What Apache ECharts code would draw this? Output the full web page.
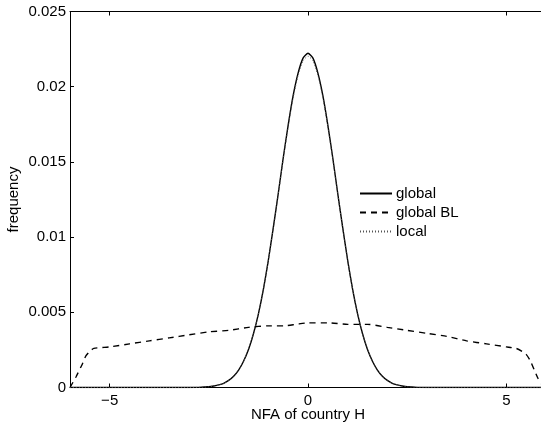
<!DOCTYPE html>
<html>
<head>
<meta charset="utf-8">
<script src="https://cdn.jsdelivr.net/npm/echarts@6/dist/echarts.min.js"></script>
<style>html,body{margin:0;padding:0;background:#fff;}#c{width:541px;height:426px;}</style>
</head>
<body>
<div id="c"></div>
<script>
// x grid for the global / local curves
var xNarrow = [-6, -3, -2.75, -2.5, -2.375, -2.25, -2.125, -2, -1.875, -1.75, -1.625, -1.5, -1.375, -1.25, -1.125, -1, -0.875, -0.75, -0.625, -0.5, -0.375, -0.25, -0.125, 0,
  0.125, 0.25, 0.375, 0.5, 0.625, 0.75, 0.875, 1, 1.125, 1.25, 1.375, 1.5, 1.625, 1.75, 1.875, 2, 2.125, 2.25, 2.375, 2.5, 2.75, 3, 6];
var globalVals = [0, 0, 0.00001, 0.00005, 0.0001, 0.00017, 0.00028, 0.00047, 0.00075, 0.00116, 0.00175, 0.00253, 0.00357, 0.0049, 0.00653, 0.00846, 0.01063, 0.0129, 0.01526, 0.01745, 0.0194, 0.0209, 0.0219, 0.02222,
  0.0219, 0.0209, 0.0194, 0.01745, 0.01526, 0.0129, 0.01063, 0.00846, 0.00653, 0.0049, 0.00357, 0.00253, 0.00175, 0.00116, 0.00075, 0.00047, 0.00028, 0.00017, 0.0001, 0.00005, 0.00001, 0, 0];
var localVals = [0, 0, 0.00001, 0.00005, 0.0001, 0.00017, 0.00028, 0.00047, 0.00075, 0.00116, 0.00175, 0.00253, 0.00357, 0.0049, 0.00652, 0.00843, 0.01058, 0.01283, 0.01516, 0.01733, 0.01926, 0.02075, 0.02172, 0.02203,
  0.02172, 0.02075, 0.01926, 0.01733, 0.01516, 0.01283, 0.01058, 0.00843, 0.00652, 0.0049, 0.00357, 0.00253, 0.00175, 0.00116, 0.00075, 0.00047, 0.00028, 0.00017, 0.0001, 0.00005, 0.00001, 0, 0];
// global BL curve
var xWide = [-6, -5.85, -5.7, -5.6, -5.5, -5.4, -5, -4.5, -4, -3.5, -3, -2.5, -2, -1.5, -1, -0.6, -0.3, 0, 0.5, 1, 1.5, 2, 2.5, 3, 3.5, 4, 4.5, 5, 5.25, 5.4, 5.5, 5.6, 5.7, 5.8, 5.9, 6];
var blVals = [0, 0.0007, 0.0015, 0.0021, 0.0024, 0.0026, 0.0027, 0.0029, 0.0031, 0.0033, 0.0035, 0.0037, 0.0038, 0.004, 0.0041, 0.0041, 0.0042, 0.0043, 0.0043, 0.0042, 0.0042, 0.004, 0.0038, 0.0036, 0.0034, 0.0031, 0.0029, 0.0027, 0.0026, 0.0024, 0.0022, 0.0018, 0.0012, 0.0006, 0.0002, 0];
var xTicks = [-5, 0, 5];
var yTickStep = 0.005;
var seriesNames = ['global', 'global BL', 'local'];

function pairs(xs, ys) { return xs.map(function (x, i) { return [x, ys[i]]; }); }

var font = 'Liberation Sans, Arial, sans-serif';
var fs = 15;
var chart = echarts.init(document.getElementById('c'), null, { renderer: 'canvas' });
var tickStyle = { show: true, inside: true, length: 4, lineStyle: { color: '#000', width: 1 } };
chart.setOption({
  animation: false,
  backgroundColor: '#fff',
  grid: { left: 70, top: 11.5, width: 476, height: 376, show: false, containLabel: false, outerBoundsMode: 'none' },
  legend: {
    orient: 'vertical', left: 354, top: 181, itemWidth: 32, itemHeight: 10, itemGap: 4,
    itemStyle: { opacity: 0 },
    textStyle: { fontFamily: font, fontSize: fs, color: '#000', padding: [0, 0, 0, -1] },
    data: seriesNames
  },
  xAxis: [{
    type: 'value', min: -6, max: 6, position: 'bottom',
    name: 'NFA of country H', nameLocation: 'middle', nameGap: 20, nameMoveOverlap: false,
    nameTextStyle: { fontFamily: font, fontSize: fs, color: '#000' },
    axisLine: { onZero: false, lineStyle: { color: '#000', width: 1 } },
    axisTick: Object.assign({ customValues: xTicks }, tickStyle),
    axisLabel: { customValues: xTicks, fontFamily: font, fontSize: fs, color: '#000', margin: 6, formatter: function (v) { return v < 0 ? '\u2212' + (-v) : String(v); } },
    splitLine: { show: false }
  }, {
    type: 'value', min: -6, max: 6, position: 'top',
    axisLine: { onZero: false, lineStyle: { color: '#000', width: 1 } },
    axisTick: Object.assign({ customValues: xTicks }, tickStyle),
    axisLabel: { show: false }, splitLine: { show: false }
  }],
  yAxis: [{
    type: 'value', min: 0, max: 0.025, interval: yTickStep, position: 'left',
    name: 'frequency', nameLocation: 'middle', nameGap: 49, nameMoveOverlap: false,
    nameTextStyle: { fontFamily: font, fontSize: fs, color: '#000' },
    axisLine: { show: true, onZero: false, lineStyle: { color: '#000', width: 1 } },
    axisTick: tickStyle,
    axisLabel: { fontFamily: font, fontSize: fs, color: '#000', margin: 4, formatter: function (v) { return String(+v.toFixed(3)); } },
    splitLine: { show: false }
  }, {
    type: 'value', min: 0, max: 0.025, interval: yTickStep, position: 'right',
    axisLine: { show: true, onZero: false, lineStyle: { color: '#000', width: 1 } },
    axisTick: tickStyle, axisLabel: { show: false }, splitLine: { show: false }
  }],
  series: [{
    name: seriesNames[0], type: 'line', data: pairs(xNarrow, globalVals), showSymbol: false, symbol: 'none', smooth: 0.2,
    lineStyle: { color: '#000', width: 1.4 }, itemStyle: { color: '#000' }, z: 3
  }, {
    name: seriesNames[1], type: 'line', data: pairs(xWide, blVals), showSymbol: false, symbol: 'none', smooth: 0.2,
    lineStyle: { color: '#000', width: 1.4, type: [6, 5] }, itemStyle: { color: '#000' }, z: 2
  }, {
    name: seriesNames[2], type: 'line', data: pairs(xNarrow, localVals), showSymbol: false, symbol: 'none', smooth: 0.2,
    lineStyle: { color: '#555', width: 1, type: [1, 2] }, itemStyle: { color: '#555' }, z: 4
  }]
});
</script>
</body>
</html>
